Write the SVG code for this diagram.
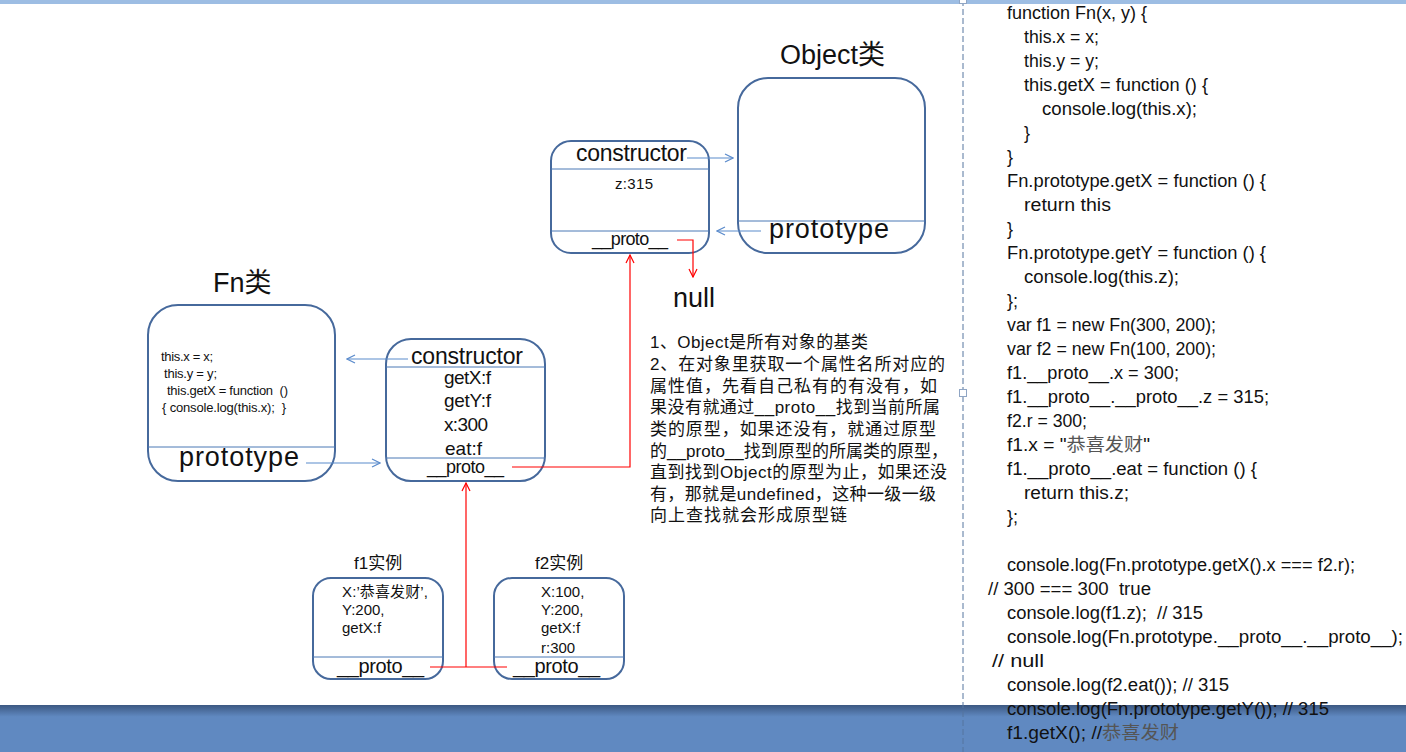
<svg xmlns="http://www.w3.org/2000/svg" width="1406" height="752" viewBox="0 0 1406 752">
<defs>
<style>
text{font-family:"Liberation Sans","Noto Sans CJK SC",sans-serif;fill:#111;}
.box{fill:none;stroke:#46699c;stroke-width:2;}
.div{stroke:#4a78b5;stroke-width:1;fill:none;}
.blue{stroke:#5b8bcc;stroke-width:1.2;fill:none;}
.red{stroke:#ff0000;stroke-width:1.2;fill:none;}
.big{font-size:27px;}
.mid{font-size:23px;}
.prop{font-size:19px;}
.small{font-size:13px;}
.inst{font-size:15px;}
.code text{font-size:18px;white-space:pre;}
.note text{font-size:17px;}
.cn{fill:#555;}
</style>
<marker id="ab" viewBox="0 0 10 10" refX="9" refY="5" markerWidth="10" markerHeight="10" markerUnits="userSpaceOnUse" orient="auto">
<path d="M1,1 L9,5 L1,9" fill="none" stroke="#5b8bcc" stroke-width="1.2"/>
</marker>
<marker id="ar" viewBox="0 0 10 10" refX="9" refY="5" markerWidth="10" markerHeight="10" markerUnits="userSpaceOnUse" orient="auto">
<path d="M1,1 L9,5 L1,9" fill="none" stroke="#ff0000" stroke-width="1.2"/>
</marker>
<linearGradient id="band" x1="0" y1="0" x2="0" y2="1">
<stop offset="0" stop-color="#3c5882"/>
<stop offset="0.25" stop-color="#6089c1"/>
<stop offset="1" stop-color="#6089c1"/>
</linearGradient>
</defs>
<rect x="0" y="0" width="1406" height="752" fill="#ffffff"/>
<rect x="0" y="0" width="1406" height="4" fill="#9dbde3"/>
<rect x="0" y="705" width="1406" height="47" fill="url(#band)"/>

<g id="fn-class">
<text x="213" y="292" class="big" font-size="27">Fn类</text>
<rect class="box" x="148" y="305" width="187" height="176" rx="30"/>
<line class="div" x1="148" y1="447" x2="335" y2="447"/>
<text class="small" x="161" y="361" textLength="52">this.x = x;</text>
<text class="small" x="164" y="378" textLength="53">this.y = y;</text>
<text class="small" x="167" y="395" textLength="121" style="white-space:pre">this.getX = function  ()</text>
<text class="small" x="162" y="412" textLength="124" style="white-space:pre">{ console.log(this.x);  }</text>
<text class="big" x="179" y="466" textLength="120">prototype</text>
</g>

<g id="fn-prototype">
<rect class="box" x="386" y="339" width="159" height="142" rx="25"/>
<line class="div" x1="386" y1="367" x2="545" y2="367"/>
<line class="div" x1="386" y1="458" x2="545" y2="458"/>
<text class="mid" x="411" y="364" textLength="112">constructor</text>
<text class="prop" x="444" y="384" textLength="47">getX:f</text>
<text class="prop" x="444" y="407" textLength="47">getY:f</text>
<text class="prop" x="444" y="431" textLength="44">x:300</text>
<text class="prop" x="445" y="455" textLength="37">eat:f</text>
<text font-size="18" x="427" y="473" textLength="77">__proto__</text>
</g>

<g id="object-prototype">
<rect class="box" x="551" y="141" width="158" height="112" rx="20"/>
<line class="div" x1="551" y1="169" x2="709" y2="169"/>
<line class="div" x1="551" y1="231" x2="709" y2="231"/>
<text class="mid" x="576" y="161" textLength="111">constructor</text>
<text font-size="15" x="615" y="189" textLength="38">z:315</text>
<text font-size="18" x="592" y="245" textLength="76">__proto__</text>
</g>

<g id="object-class">
<text class="big" x="780" y="64">Object类</text>
<rect class="box" x="738" y="78" width="187" height="175" rx="30"/>
<line class="div" x1="738" y1="221" x2="925" y2="221"/>
<text class="big" x="769" y="238" textLength="120">prototype</text>
</g>

<g id="null">
<text class="big" x="673" y="307" textLength="42">null</text>
</g>

<g id="f1">
<text font-size="17" x="354" y="569">f1实例</text>
<rect class="box" x="313" y="578" width="130" height="101" rx="18"/>
<line class="div" x1="313" y1="657" x2="443" y2="657"/>
<text class="inst" x="342" y="597" textLength="86">X:’恭喜发财’,</text>
<text class="inst" x="342" y="615">Y:200,</text>
<text class="inst" x="342" y="633">getX:f</text>
<text font-size="20" x="337" y="673" textLength="87">__proto__</text>
</g>

<g id="f2">
<text font-size="17" x="535" y="569">f2实例</text>
<rect class="box" x="494" y="578" width="130" height="101" rx="18"/>
<line class="div" x1="494" y1="657" x2="624" y2="657"/>
<text class="inst" x="541" y="597">X:100,</text>
<text class="inst" x="541" y="615">Y:200,</text>
<text class="inst" x="541" y="633">getX:f</text>
<text class="inst" x="541" y="653">r:300</text>
<text font-size="20" x="513" y="673" textLength="87">__proto__</text>
</g>

<g id="connectors">
<line class="blue" x1="408" y1="359" x2="347" y2="359" marker-end="url(#ab)"/>
<line class="blue" x1="306" y1="463" x2="380" y2="463" marker-end="url(#ab)"/>
<line class="blue" x1="687" y1="158" x2="733" y2="158" marker-end="url(#ab)"/>
<line class="blue" x1="761" y1="231" x2="717" y2="231" marker-end="url(#ab)"/>
<polyline class="red" points="512,467 630,467 630,255" marker-end="url(#ar)"/>
<polyline class="red" points="677,240 693,240 693,277" marker-end="url(#ar)"/>
<line class="red" x1="430" y1="667" x2="507" y2="667"/>
<line class="red" x1="466" y1="667" x2="466" y2="483" marker-end="url(#ar)"/>
</g>

<g id="note" class="note">
<text x="650" y="348" textLength="218">1、Object是所有对象的基类</text>
<text x="650" y="370" textLength="295">2、在对象里获取一个属性名所对应的</text>
<text x="650" y="392" textLength="287">属性值，先看自己私有的有没有，如</text>
<text x="650" y="413" textLength="290">果没有就通过__proto__找到当前所属</text>
<text x="650" y="435" textLength="286">类的原型，如果还没有，就通过原型</text>
<text x="650" y="457" textLength="298">的__proto__找到原型的所属类的原型，</text>
<text x="650" y="478" textLength="297">直到找到Object的原型为止，如果还没</text>
<text x="650" y="500" textLength="286">有，那就是undefined，这种一级一级</text>
<text x="650" y="521" textLength="197">向上查找就会形成原型链</text>
</g>

<g id="code" class="code">
<text x="1007" y="19" textLength="140" lengthAdjust="spacingAndGlyphs">function Fn(x, y) {</text>
<text x="1024" y="43" textLength="75" lengthAdjust="spacingAndGlyphs">this.x = x;</text>
<text x="1024" y="67" textLength="75" lengthAdjust="spacingAndGlyphs">this.y = y;</text>
<text x="1024" y="91" textLength="184" lengthAdjust="spacingAndGlyphs">this.getX = function () {</text>
<text x="1042" y="115" textLength="155" lengthAdjust="spacingAndGlyphs">console.log(this.x);</text>
<text x="1024" y="139">}</text>
<text x="1007" y="163">}</text>
<text x="1007" y="187" textLength="259" lengthAdjust="spacingAndGlyphs">Fn.prototype.getX = function () {</text>
<text x="1024" y="211" textLength="87" lengthAdjust="spacingAndGlyphs">return this</text>
<text x="1007" y="235">}</text>
<text x="1007" y="259" textLength="259" lengthAdjust="spacingAndGlyphs">Fn.prototype.getY = function () {</text>
<text x="1024" y="283" textLength="155" lengthAdjust="spacingAndGlyphs">console.log(this.z);</text>
<text x="1007" y="307">};</text>
<text x="1007" y="331" textLength="209" lengthAdjust="spacingAndGlyphs">var f1 = new Fn(300, 200);</text>
<text x="1007" y="355" textLength="209" lengthAdjust="spacingAndGlyphs">var f2 = new Fn(100, 200);</text>
<text x="1007" y="379" textLength="172" lengthAdjust="spacingAndGlyphs">f1.__proto__.x = 300;</text>
<text x="1007" y="403" textLength="262" lengthAdjust="spacingAndGlyphs">f1.__proto__.__proto__.z = 315;</text>
<text x="1007" y="427" textLength="80" lengthAdjust="spacingAndGlyphs">f2.r = 300;</text>
<text x="1007" y="451" textLength="143" lengthAdjust="spacingAndGlyphs">f1.x = "<tspan class="cn">恭喜发财</tspan>"</text>
<text x="1007" y="475" textLength="250" lengthAdjust="spacingAndGlyphs">f1.__proto__.eat = function () {</text>
<text x="1024" y="499" textLength="105" lengthAdjust="spacingAndGlyphs">return this.z;</text>
<text x="1007" y="523">};</text>
<text x="1007" y="571" textLength="348" lengthAdjust="spacingAndGlyphs">console.log(Fn.prototype.getX().x === f2.r);</text>
<text x="988" y="595" textLength="163" lengthAdjust="spacingAndGlyphs">// 300 === 300  true</text>
<text x="1007" y="619" textLength="196" lengthAdjust="spacingAndGlyphs">console.log(f1.z);  // 315</text>
<text x="1007" y="643" textLength="396" lengthAdjust="spacingAndGlyphs">console.log(Fn.prototype.__proto__.__proto__);</text>
<text x="992" y="667" textLength="52" lengthAdjust="spacingAndGlyphs">// null</text>
<text x="1007" y="691" textLength="222" lengthAdjust="spacingAndGlyphs">console.log(f2.eat()); // 315</text>
<text x="1007" y="715" textLength="322" lengthAdjust="spacingAndGlyphs">console.log(Fn.prototype.getY()); // 315</text>
<text x="1007" y="739" textLength="172" lengthAdjust="spacingAndGlyphs">f1.getX(); //<tspan class="cn">恭喜发财</tspan></text>
</g>

<line x1="963" y1="0" x2="963" y2="752" stroke="#55759e" stroke-width="1" stroke-dasharray="6,3"/>
<rect x="959.5" y="389.5" width="7" height="7" fill="#ffffff" stroke="#8fa5c4" stroke-width="1"/>
<rect x="959.5" y="-3.5" width="7" height="7" fill="#ffffff" stroke="#8fa5c4" stroke-width="1"/>
</svg>
